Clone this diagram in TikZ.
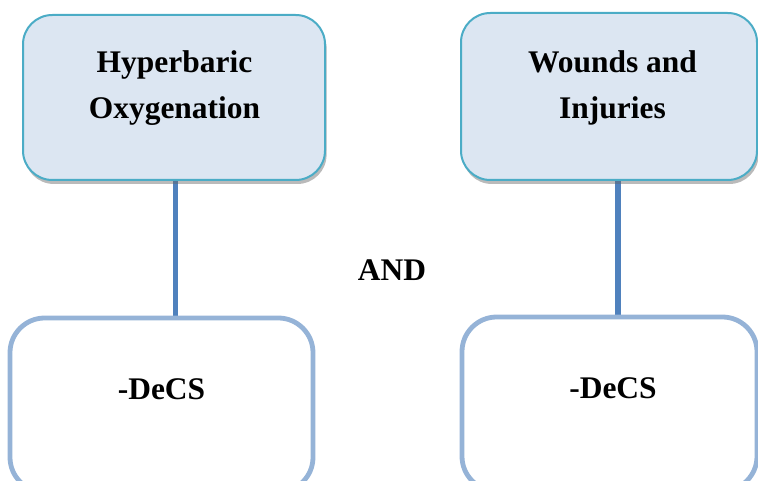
\documentclass[tikz,border=0pt]{standalone}
\usepackage{fontspec}
\setmainfont{Liberation Serif}
\usetikzlibrary{shadows,backgrounds}
\definecolor{bordhaut}{HTML}{4BACC6}
\definecolor{fondhaut}{HTML}{DCE6F2}
\definecolor{bordbas}{HTML}{95B3D7}
\definecolor{lien}{HTML}{4F81BD}

\begin{document}
\begin{tikzpicture}[x=0.75pt,y=-0.75pt]
\tikzset{hautnoeud/.style={draw=bordhaut, line width=1.5pt, fill=fondhaut, rounded corners=22pt,
    drop shadow={shadow xshift=1.2pt, shadow yshift=-3pt, opacity=0.45, fill=black!60}},
  basnoeud/.style={draw=bordbas, line width=3.6pt, fill=white, rounded corners=26pt},
  texte/.style={inner sep=0pt, align=center, font=\fontsize{23.6}{34.5}\selectfont\bfseries}}
\useasboundingbox (0,0) rectangle (758,481);
\node[hautnoeud, minimum width=226.5pt, minimum height=123.75pt] (H1) at (174,97.5) {};
\node[hautnoeud, minimum width=222pt, minimum height=125.25pt] (H2) at (609,96.5) {};
\node[basnoeud, minimum width=227.25pt, minimum height=130.5pt] (B1) at (161.5,405) {};
\node[basnoeud, minimum width=221.25pt, minimum height=130.5pt] (B2) at (609.5,404) {};
\node[texte] (T1) at (174.5,88) {Hyperbaric\\Oxygenation};
\node[texte] (T2) at (612.5,88) {Wounds and\\Injuries};
\node[texte] (T3) at (161.5,389) {-DeCS};
\node[texte] (T4) at (613,388) {-DeCS};
\node[texte] (ET) at (392,270) {AND};
\begin{scope}[on background layer]
\draw[lien, line width=3.8pt] ([xshift=1pt]H1.south) -- ([xshift=1pt]H1.south |- B1.north);
\draw[lien, line width=3.8pt] ([xshift=6.75pt]H2.south) -- ([xshift=6.75pt]H2.south |- B2.north);
\end{scope}
\end{tikzpicture}
\end{document}
